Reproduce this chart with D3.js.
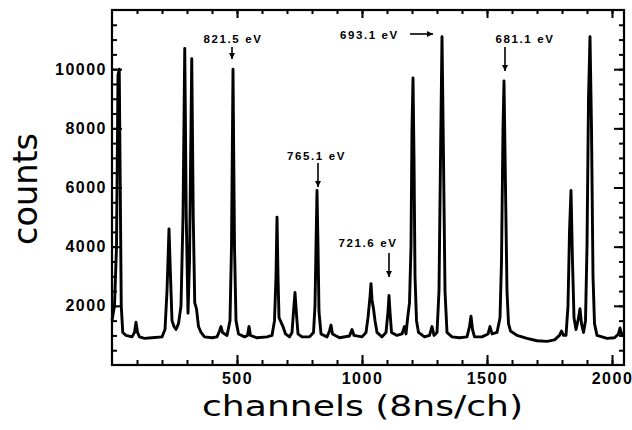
<!DOCTYPE html>
<html><head><meta charset="utf-8">
<script src="https://cdn.jsdelivr.net/npm/d3@7"></script>
<style>
body{margin:0;background:#fff;}
svg{display:block;}
</style></head>
<body>
<svg id="c" width="632" height="430"></svg>
<script>
// spectrum: [channel, counts]
const spectrum = [
[0,1500],[10,2000],[18,4000],[24,9800],[29,10000],[33,6000],[37,2000],[43,1100],[56,1000],[80,950],[90,1100],[96,1450],[102,1100],[110,950],[130,900],[160,920],[200,950],
[212,1200],[220,2500],[228,4600],[234,3000],[240,1500],[248,1300],[256,1200],[266,1400],[276,2000],[284,5000],[291,10700],[297,5000],[304,1750],
[310,3500],[319,10350],[325,5000],[331,2100],[338,1900],[346,1300],[356,1100],[370,950],[400,920],[420,950],[430,1150],[436,1300],[442,1100],[460,1000],
[472,1500],[478,4000],[484,10000],[490,4000],[496,1500],[506,1050],[530,950],[542,1000],[548,1300],[554,1000],[580,920],[620,950],[640,1000],
[650,1500],[656,3000],[660,5000],[664,3000],[668,1600],[676,1450],[684,1300],[694,1050],[710,950],[720,1100],[726,1800],[732,2450],[738,1700],[744,1050],
[760,950],[790,950],[806,1100],[812,2000],[816,4000],[820,5900],[824,4000],[828,1800],[836,1050],[860,950],[870,1150],[876,1350],[882,1050],[910,920],
[950,980],[960,1200],[968,1000],[1000,950],[1016,1100],[1024,1600],[1032,2300],[1036,2750],[1040,2200],[1046,1900],[1052,1500],[1060,1100],[1080,950],
[1096,1100],[1104,1800],[1108,2350],[1112,1800],[1118,1100],[1140,1000],[1160,1050],[1170,1300],[1176,1050],[1184,1700],[1190,2100],[1196,4000],
[1200,8000],[1204,9700],[1208,7000],[1212,3000],[1218,1500],[1226,1100],[1250,950],[1270,1000],[1280,1300],[1288,1000],[1300,1100],[1308,2500],
[1314,7000],[1320,11100],[1326,7000],[1332,2500],[1340,1100],[1360,950],[1390,920],[1420,950],[1430,1300],[1436,1650],[1442,1200],[1450,950],
[1480,950],[1504,1050],[1512,1300],[1520,1050],[1540,1100],[1552,1600],[1558,3500],[1564,8000],[1568,9600],[1574,6000],[1580,2500],[1586,1400],
[1594,1150],[1620,1000],[1660,900],[1700,820],[1740,800],[1770,850],[1790,1000],[1798,1150],[1806,1000],[1816,1000],[1824,2000],[1830,4500],
[1836,5900],[1842,3500],[1848,1600],[1856,1200],[1864,1500],[1872,1900],[1878,1400],[1886,1100],[1894,1500],[1900,4000],[1906,9000],[1912,11100],
[1918,8000],[1924,3000],[1930,1400],[1940,1000],[1980,900],[2010,920],[2026,1050],[2032,1250],[2040,1000],[2048,1050]
];
const xMajorTicks = [500, 1000, 1500, 2000];
const xMinorTicks = d3.range(100, 2048, 100);
const yMajorTicks = [2000, 4000, 6000, 8000, 10000];
const yMinorTicks = d3.range(500, 12000, 500);
// annotations: label, text position [channel, counts], arrow start/end [channel, counts]
const annLabels = ["821.5 eV", "765.1 eV", "721.6 eV", "693.1 eV", "681.1 eV"];
const annText = [[484,10885],[818,6930],[1024,3989],[912,11020],[1652,10885]];
const annAnchor = ["middle","middle","middle","start","middle"];
const annFrom = [[480,10750],[824,6828],[1108,3786],[1192,11189],[1572,10750]];
const annTo = [[480,10344],[824,6017],[1108,2975],[1284,11189],[1572,9938]];

const svg = d3.select("#c");
const L=112, R=624, T=10, B=365;
const x = d3.scaleLinear().domain([0,2048]).range([L,R]);
const y = d3.scaleLinear().domain([0,12000]).range([B,T]);

const defs = svg.append("defs");
defs.append("marker").attr("id","ah").attr("viewBox","0 0 10 10").attr("refX",10).attr("refY",5)
  .attr("markerWidth",8).attr("markerHeight",6).attr("markerUnits","userSpaceOnUse").attr("orient","auto")
  .append("path").attr("d","M0,0 L10,5 L0,10 Z").attr("fill","#000");

// spectrum
svg.append("path").datum(spectrum)
  .attr("d", d3.line().x(d=>x(d[0])).y(d=>y(d[1])))
  .attr("fill","none").attr("stroke","#000").attr("stroke-width",2.9).attr("stroke-linejoin","round");

// axes ticks
function ticks(axis, tr, vals, size, labels){
  const g = svg.append("g").attr("transform",tr).call(axis.tickValues(vals).tickSize(size).tickSizeOuter(0).tickPadding(5)
    .tickFormat(labels ? d3.format("d") : ""));
  g.select(".domain").remove();
  g.selectAll("line").attr("stroke","#000").attr("stroke-width",2);
  g.selectAll("text").attr("font-family","Liberation Sans, Arial, sans-serif").attr("font-weight","bold")
    .attr("font-size",16).attr("fill","#000").attr("letter-spacing","1.5px");
  return g;
}
ticks(d3.axisBottom(x), `translate(0,${B})`, xMinorTicks, -5, false);
const gx = ticks(d3.axisBottom(x), `translate(0,${B})`, xMajorTicks, -10, true);
gx.selectAll("text").attr("dy","0.88em");
ticks(d3.axisTop(x), `translate(0,${T})`, xMinorTicks, -4, false);
ticks(d3.axisTop(x), `translate(0,${T})`, xMajorTicks, -8, false);
ticks(d3.axisLeft(y), `translate(${L},0)`, yMinorTicks, -5, false);
const gy = ticks(d3.axisLeft(y), `translate(${L},0)`, yMajorTicks, -10, true);
gy.selectAll("text").attr("x",-5);
ticks(d3.axisRight(y), `translate(${R},0)`, yMinorTicks, -5, false);
ticks(d3.axisRight(y), `translate(${R},0)`, yMajorTicks, -10, false);

// frame
svg.append("rect").attr("x",L).attr("y",T).attr("width",R-L).attr("height",B-T)
  .attr("fill","none").attr("stroke","#000").attr("stroke-width",2.2);

// annotations
annLabels.forEach((t,i)=>{
  svg.append("text").attr("x",x(annText[i][0])).attr("y",y(annText[i][1]))
    .attr("text-anchor",annAnchor[i]).attr("font-family","Liberation Sans, Arial, sans-serif")
    .attr("font-weight","bold").attr("font-size",11.5).attr("letter-spacing","1.6px").text(t);
  svg.append("line").attr("x1",x(annFrom[i][0])).attr("y1",y(annFrom[i][1]))
    .attr("x2",x(annTo[i][0])).attr("y2",y(annTo[i][1]))
    .attr("stroke","#000").attr("stroke-width",1.6).attr("marker-end","url(#ah)");
});

// axis titles
svg.append("text").attr("x",202).attr("y",416).attr("font-family","DejaVu Sans, sans-serif")
  .attr("font-size",28).attr("textLength",321).attr("lengthAdjust","spacingAndGlyphs").text("channels (8ns/ch)");
svg.append("text").attr("transform","translate(37,245) rotate(-90)").attr("font-family","DejaVu Sans, sans-serif")
  .attr("font-size",33).attr("textLength",112).attr("lengthAdjust","spacingAndGlyphs").text("counts");
</script>
</body></html>
